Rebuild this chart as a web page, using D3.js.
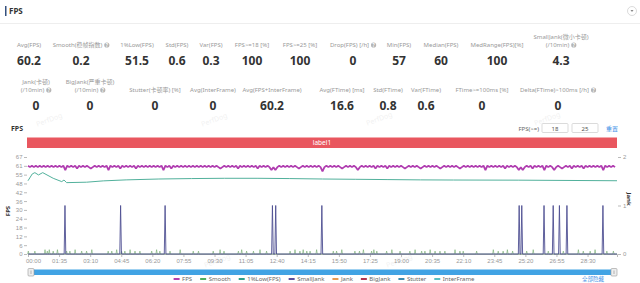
<!DOCTYPE html>
<html>
<head>
<meta charset="utf-8">
<script src="https://cdn.jsdelivr.net/npm/d3@7"></script>
<style>
body { margin: 0; background: #fff; }
svg { display: block; font-family: "Noto Sans", "Noto Sans CJK SC", sans-serif; }
</style>
</head>
<body>
<svg id="chart" width="640" height="283"></svg>
<script>
'use strict';

/**** Data ****/

//Summary stats, first row
var statLabels1 = ['Avg(FPS)', 'Smooth(稳帧指数)', '1%Low(FPS)', 'Std(FPS)', 'Var(FPS)', 'FPS>=18 [%]', 'FPS>=25 [%]',
    'Drop(FPS) [/h]', 'Min(FPS)', 'Median(FPS)', 'MedRange(FPS)[%]', 'SmallJank(微小卡顿)\n(/10min)'];
var statValues1 = ['60.2', '0.2', '51.5', '0.6', '0.3', '100', '100', '0', '57', '60', '100', '4.3'];
var statIcons1 = [1, 7, 11];

//Summary stats, second row
var statLabels2 = ['Jank(卡顿)\n(/10min)', 'BigJank(严重卡顿)\n(/10min)', 'Stutter(卡顿率) [%]', 'Avg(InterFrame)',
    'Avg(FPS+InterFrame)', 'Avg(FTime) [ms]', 'Std(FTime)', 'Var(FTime)', 'FTime>=100ms [%]', 'Delta(FTime)>100ms [/h]'];
var statValues2 = ['0', '0', '0', '0', '60.2', '16.6', '0.8', '0.6', '0', '0'];
var statIcons2 = [0, 1, 9];

//Axes
var fpsTickLabels = ['0', '6', '12', '18', '24', '30', '36', '42', '48', '55', '61', '67'];
var jankTickLabels = ['0', '1', '2'];
var timeTickSeconds = [0, 95, 190, 285, 380, 475, 570, 665, 760, 855, 950, 1045, 1140, 1235, 1330, 1425, 1520, 1615, 1710];

//FPS, one sample every 6 s
var fpsStep = 6;
var fpsValues = [
    61,60,61,60,61,60,61,60,61,60,61,60,61,60,61,60,61,60,61,58,
    61,60,61,60,61,59,61,60,61,60,61,60,59,60,61,60,61,60,61,60,
    61,58,61,60,61,60,61,59,61,60,61,60,61,60,61,59,61,60,61,60,
    61,60,61,60,61,60,61,60,61,58,61,60,61,59,61,60,61,60,61,60,
    61,60,61,60,61,60,61,60,61,60,61,60,61,60,61,60,61,60,59,60,
    61,60,61,60,61,60,61,59,61,60,61,60,61,60,61,60,61,59,61,60,
    61,60,61,60,58,60,58,60,61,60,61,60,61,60,61,60,61,60,59,60,
    61,60,61,60,61,60,61,60,61,60,57,60,61,60,61,60,61,60,61,60,
    59,60,61,60,61,60,61,60,58,60,61,60,61,60,61,60,61,59,61,60,
    61,60,61,59,61,60,61,60,61,60,61,60,59,60,61,60,61,60,61,60,
    59,60,61,60,61,60,61,60,61,60,59,60,61,60,61,60,61,60,61,60,
    59,60,61,60,61,60,61,60,61,60,61,60,61,58,61,60,61,60,61,60,
    61,60,61,59,61,60,61,60,61,60,58,60,58,60,61,60,61,59,61,60,
    61,60,61,58,61,60,61,60,58,60,61,60,59,60,61,60,61,59,61,60,
    61,60,61,59,61,60,61,60,61,60,61,60,61,58,61,60,61,60,61,60
];

//1%Low(FPS) as [seconds, value]
var lowFpsPoints = [[0, 50.6], [13, 55.3], [21, 56.2], [32, 54.6], [45, 56.2], [77, 52.3], [103, 50.0], [110, 51.1],
    [118, 49.3], [179, 49.6], [230, 50.5], [300, 51.2], [400, 51.8], [500, 52.1], [600, 52.3], [700, 52.3],
    [800, 52.1], [900, 51.8], [1000, 51.6], [1100, 51.4], [1200, 51.2], [1300, 51.1], [1500, 51.0], [1800, 50.6]];

//Smooth events as [seconds, value]
var smoothEvents = [[1, 2], [21, 2], [52, 3], [59, 2], [65, 3], [77, 2], [90, 3], [118, 2], [128, 2], [144, 3],
    [164, 2], [179, 2], [195, 3], [245, 2], [256, 2], [271, 3], [286, 2], [296, 2], [312, 3], [327, 2], [342, 2],
    [378, 2], [393, 3], [403, 2], [434, 2], [465, 3], [505, 2], [521, 2], [566, 2], [587, 3], [599, 2], [643, 2],
    [653, 3], [668, 2], [689, 2], [709, 3], [729, 2], [801, 2], [816, 3], [831, 2], [841, 3], [852, 2], [862, 2],
    [882, 3], [933, 2], [943, 2], [959, 3], [999, 2], [1013, 2], [1025, 3], [1050, 2], [1057, 3], [1066, 2],
    [1096, 2], [1112, 3], [1137, 2], [1167, 2], [1183, 3], [1203, 2], [1213, 2], [1229, 3], [1244, 2], [1259, 2],
    [1274, 2], [1305, 3], [1320, 2], [1330, 2], [1371, 2], [1422, 3], [1437, 2], [1452, 2], [1465, 3], [1481, 2],
    [1524, 2], [1544, 3], [1590, 2], [1636, 2], [1682, 3], [1697, 2], [1718, 2], [1733, 3], [1769, 2], [1789, 2]];

//SmallJank events, seconds (value 1 on the Jank axis)
var smallJankTimes = [113, 283, 419, 747, 757, 898, 1501, 1509, 1577, 1605, 1624, 1647, 1757];

//Legend
var legendNames = ['FPS', 'Smooth', '1%Low(FPS)', 'SmallJank', 'Jank', 'BigJank', 'Stutter', 'InterFrame'];
var legendColors = ['#b43fae', '#4fae5f', '#2f9f8a', '#5a4f9c', '#e89a52', '#b3344e', '#3b8bb0', '#59bfc2'];

/**** Drawing ****/

var svg = d3.select('#chart');
var gray = '#999';

//Header
svg.append('rect').attr('x', 5).attr('y', 6).attr('width', 1.5).attr('height', 10).attr('fill', '#34507e');
svg.append('text').attr('x', 9).attr('y', 14).attr('font-size', 8).attr('font-weight', 'bold').attr('fill', '#333').text('FPS');
svg.append('line').attr('x1', 0).attr('x2', 640).attr('y1', 23.5).attr('y2', 23.5).attr('stroke', '#eee');
svg.append('circle').attr('cx', 632).attr('cy', 11).attr('r', 4.5).attr('fill', 'none').attr('stroke', '#ccc').attr('stroke-width', 0.7);
svg.append('path').attr('d', 'M630.5,10 L633.5,10 L632,12 Z').attr('fill', '#888');

//Watermarks
var marks = [[50, 122], [215, 122], [380, 121], [548, 121], [218, 263], [400, 263]];
marks.forEach(function(m) {
    svg.append('text').attr('transform', 'translate(' + m[0] + ',' + m[1] + ') rotate(-20)')
        .attr('text-anchor', 'middle').attr('font-size', 7).attr('fill', '#000').attr('opacity', 0.06).text('PerfDog');
});

//Stats
var statX1 = [29, 81, 137, 177, 211, 252, 300, 353, 399, 441, 497, 561];
var statX2 = [36, 90, 155, 213, 272, 342, 388, 426, 482, 558];
var drawStats = function(labels, values, xs, icons, labelY, valueY) {
    labels.forEach(function(label, i) {
        var lines = label.split('\n');
        lines.forEach(function(line, j) {
            var t = svg.append('text').attr('y', labelY - (lines.length - 1 - j) * 8)
                .attr('font-size', 6).attr('fill', gray).text(line);
            var w = t.node().getComputedTextLength();
            var last = j === lines.length - 1 && icons.indexOf(i) >= 0;
            var total = w + (last ? 7 : 0);
            t.attr('x', xs[i] - total / 2);
            if (last) {
                var cx = xs[i] - total / 2 + w + 4.5;
                svg.append('circle').attr('cx', cx).attr('cy', labelY - 2).attr('r', 2.6).attr('fill', '#b5b5b5');
                svg.append('text').attr('x', cx).attr('y', labelY - 0.4).attr('text-anchor', 'middle')
                    .attr('font-size', 4.5).attr('font-weight', 'bold').attr('fill', '#fff').text('?');
            }
        });
        svg.append('text').attr('x', xs[i]).attr('y', valueY).attr('text-anchor', 'middle')
            .attr('font-size', 12).attr('font-weight', 'bold').attr('fill', '#333').text(values[i]);
    });
};
drawStats(statLabels1, statValues1, statX1, statIcons1, 47, 65);
drawStats(statLabels2, statValues2, statX2, statIcons2, 92, 110);

//Chart toolbar
svg.append('text').attr('x', 11).attr('y', 131).attr('font-size', 7).attr('font-weight', 'bold').attr('fill', '#333').text('FPS');
svg.append('text').attr('x', 539).attr('y', 131).attr('text-anchor', 'end').attr('font-size', 6).attr('fill', '#666').text('FPS(>=)');
[['18', 542], ['25', 572]].forEach(function(b) {
    svg.append('rect').attr('x', b[1]).attr('y', 123.5).attr('width', 26).attr('height', 9).attr('rx', 1)
        .attr('fill', '#fff').attr('stroke', '#ccc').attr('stroke-width', 0.7);
    svg.append('text').attr('x', b[1] + 13).attr('y', 130.5).attr('text-anchor', 'middle').attr('font-size', 6).attr('fill', '#555').text(b[0]);
});
svg.append('text').attr('x', 606).attr('y', 131).attr('font-size', 6).attr('fill', '#3a8ee6').text('重置');

//Label bar
svg.append('rect').attr('x', 27).attr('y', 137.5).attr('width', 590).attr('height', 10.5).attr('fill', '#e9575f');
svg.append('text').attr('x', 322).attr('y', 145).attr('text-anchor', 'middle').attr('font-size', 6.5).attr('fill', '#fff').text('label1');

//Scales
var x = d3.scaleLinear().domain([0, 1800]).range([28, 617]);
var yFps = d3.scaleLinear().domain([0, 67]).range([254, 157]);
var yJank = d3.scaleLinear().domain([0, 2]).range([254, 157]);

var pad = function(n) { return (n < 10 ? '0' : '') + n; };
var fmtTime = function(s) { return pad(Math.floor(s / 60)) + ':' + pad(s % 60); };

//Axes
var xAxis = svg.append('g').attr('transform', 'translate(0,254)')
    .call(d3.axisBottom(x).tickValues(timeTickSeconds).tickFormat(fmtTime).tickSize(3).tickPadding(2));
xAxis.select('.domain').attr('stroke', '#bbb');
xAxis.selectAll('.tick line').attr('stroke', '#bbb');
xAxis.selectAll('.tick text').attr('font-size', 6).attr('fill', gray).attr('font-family', null);
//first label sits a little inside the plot, like the original
xAxis.select('.tick text').attr('dx', 5);

var fpsTicks = fpsTickLabels.map(function(d, i) { return 67 * i / (fpsTickLabels.length - 1); });
var yAxisL = svg.append('g').attr('transform', 'translate(27,0)')
    .call(d3.axisLeft(yFps).tickValues(fpsTicks).tickFormat(function(d, i) { return fpsTickLabels[i]; }).tickSize(3).tickPadding(1.5));
yAxisL.select('.domain').remove();
yAxisL.selectAll('.tick line').attr('stroke', '#bbb');
yAxisL.selectAll('.tick text').attr('font-size', 6).attr('fill', gray).attr('font-family', null);

var yAxisR = svg.append('g').attr('transform', 'translate(618,0)')
    .call(d3.axisRight(yJank).tickValues([0, 1, 2]).tickFormat(function(d, i) { return jankTickLabels[i]; }).tickSize(3).tickPadding(2));
yAxisR.select('.domain').remove();
yAxisR.selectAll('.tick line').attr('stroke', '#bbb');
yAxisR.selectAll('.tick text').attr('font-size', 6).attr('fill', gray).attr('font-family', null);

svg.append('text').attr('transform', 'translate(10,211) rotate(-90)').attr('text-anchor', 'middle')
    .attr('font-size', 6).attr('font-weight', 'bold').attr('fill', '#333').text('FPS');
svg.append('text').attr('transform', 'translate(627,199) rotate(90)').attr('text-anchor', 'middle')
    .attr('font-size', 6).attr('font-weight', 'bold').attr('fill', '#333').text('Jank');

//Series
var plot = svg.append('g');

var smoothData = [[0, 0]];
smoothEvents.forEach(function(e) { smoothData.push([e[0] - 2, 0], [e[0], e[1]], [e[0] + 2, 0]); });
smoothData.push([1800, 0]);
plot.append('path').datum(smoothData)
    .attr('d', d3.line().x(function(d) { return x(d[0]); }).y(function(d) { return yFps(d[1]); }))
    .attr('fill', 'none').attr('stroke', '#6ea86a').attr('stroke-width', 0.8).attr('opacity', 0.75);

var jankData = [[0, 0]];
smallJankTimes.forEach(function(t) { jankData.push([t - 2.5, 0], [t, 1], [t + 2.5, 0]); });
jankData.push([1800, 0]);
plot.append('path').datum(jankData)
    .attr('d', d3.line().x(function(d) { return x(d[0]); }).y(function(d) { return yJank(d[1]); }))
    .attr('fill', 'none').attr('stroke', '#4e4f92').attr('stroke-width', 0.9);

plot.append('path').datum(lowFpsPoints)
    .attr('d', d3.line().x(function(d) { return x(d[0]); }).y(function(d) { return yFps(d[1]); }))
    .attr('fill', 'none').attr('stroke', '#52b19c').attr('stroke-width', 1);

plot.append('path').datum(fpsValues)
    .attr('d', d3.line().x(function(d, i) { return x(i * fpsStep); }).y(function(d) { return yFps(d); }))
    .attr('fill', 'none').attr('stroke', '#b03db0').attr('stroke-width', 1.8).attr('stroke-linejoin', 'bevel');

//Data zoom slider
svg.append('rect').attr('x', 31).attr('y', 269.5).attr('width', 583).attr('height', 5.5).attr('fill', '#41a3e4');
[28, 611].forEach(function(hx) {
    svg.append('rect').attr('x', hx).attr('y', 268.5).attr('width', 6).attr('height', 7.5).attr('rx', 1)
        .attr('fill', '#eee').attr('stroke', '#999').attr('stroke-width', 0.6);
    svg.append('line').attr('x1', hx + 3).attr('x2', hx + 3).attr('y1', 270.5).attr('y2', 274)
        .attr('stroke', '#888').attr('stroke-width', 0.6);
});

//Legend
var legend = svg.append('g');
var lx = 0;
legendNames.forEach(function(name, i) {
    var item = legend.append('g').attr('transform', 'translate(' + lx + ',0)');
    item.append('line').attr('x1', 0).attr('x2', 6).attr('y1', 279).attr('y2', 279)
        .attr('stroke', legendColors[i]).attr('stroke-width', 2);
    var t = item.append('text').attr('x', 8.5).attr('y', 281).attr('font-size', 6).attr('fill', '#666').text(name);
    lx += 8.5 + t.node().getComputedTextLength() + 8;
});
legend.attr('transform', 'translate(' + (324 - (lx - 8) / 2) + ',0)');
svg.append('text').attr('x', 593).attr('y', 281).attr('text-anchor', 'middle').attr('font-size', 5.5).attr('fill', '#3a8ee6').text('全部隐藏');
</script>
</body>
</html>
